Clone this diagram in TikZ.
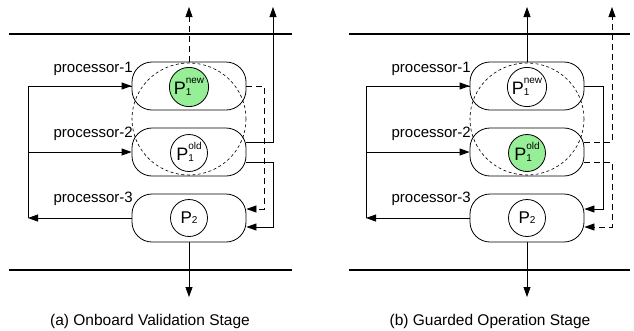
\documentclass[tikz,border=0pt]{standalone}
\usepackage{fontspec}
\setmainfont{Liberation Sans}
\usetikzlibrary{arrows.meta}
\definecolor{pgreen}{RGB}{150,238,150}
\newcommand\Plab[2]{{\fontsize{18}{18}\selectfont P}\raisebox{-1pt}{\fontsize{10}{12.5}\selectfont\begin{tabular}[b]{@{}l@{}}#1\\#2\end{tabular}}}
\newcommand\Ptwo{{\fontsize{17}{17}\selectfont P}{\fontsize{10}{10}\selectfont 2}}
\begin{document}
\begin{tikzpicture}[x=1pt,y=-1pt,
  procbox/.style={draw, rounded corners=20pt, minimum width=114pt, minimum height=48pt, line width=0.8pt},
  pcirc/.style={draw, circle, minimum size=37pt, inner sep=0pt, line width=0.8pt},
  conn/.style={line width=0.8pt},
  dconn/.style={conn, dash pattern=on 6pt off 4pt},
  arr/.style={-{Triangle[length=10pt,width=7pt]}},
  bus/.style={line width=2.4pt},
  plabel/.style={anchor=base east, inner sep=0pt, font=\fontsize{15}{18}\selectfont},
  captionlbl/.style={anchor=base, inner sep=0pt, font=\fontsize{15.5}{18}\selectfont},
  guide/.style={dash pattern=on 3pt off 2.5pt, line width=0.6pt}]
\useasboundingbox (0,0) rectangle (634,330);

% ---------------- panel (a)
\draw[bus] (9,34) -- (292,34);
\draw[bus] (9,270) -- (292,270);
\node[procbox] (a1) at (189,86) {};
\node[procbox] (a2) at (189,152) {};
\node[procbox] (a3) at (189,218) {};
\draw[guide] (189,119) ellipse (57pt and 56pt);
\node[pcirc, fill=pgreen] (a1c) at (189,87) {\Plab{new}{1}};
\node[pcirc] (a2c) at (189,153) {\Plab{old}{1}};
\node[pcirc] (a3c) at (189,218) {\Ptwo};
\node[plabel] (a1l) at (133,72) {processor-1};
\node[plabel] (a2l) at (133,137.5) {processor-2};
\node[plabel] (a3l) at (133,202) {processor-3};
\coordinate (aTopD) at (189,7);
\coordinate (aTopS) at (273,7);
\coordinate (aBot) at (189,297);
\coordinate (aFb) at (28,218);
\draw[dconn,arr] (a1.north) -- (aTopD);
\draw[conn,arr] ([yshift=10pt]a2.east) -| (aTopS);
\draw[dconn,arr] (a1.east) -| (264,209) -- ([yshift=9pt]a3.east);
\draw[conn,arr] ([yshift=-10pt]a2.east) -| (273,227) -- ([yshift=-9pt]a3.east);
\draw[conn,arr] (a3.west) -- (aFb);
\draw[conn] (aFb) |- (a1.west);
\draw[conn,arr] (aFb |- a1.west) -- (a1.west);
\draw[conn,arr] (aFb |- a2.west) -- (a2.west);
\draw[conn,arr] (a3.south) -- (aBot);
\node[captionlbl] (acap) at (150,325) {(a) Onboard Validation Stage};

% ---------------- panel (b)
\draw[bus] (349,34) -- (630,34);
\draw[bus] (349,270) -- (630,270);
\node[procbox] (b1) at (527,86) {};
\node[procbox] (b2) at (527,152) {};
\node[procbox] (b3) at (527,218) {};
\draw[guide] (527,119) ellipse (57pt and 56pt);
\node[pcirc] (b1c) at (527,87) {\Plab{new}{1}};
\node[pcirc, fill=pgreen] (b2c) at (527,153) {\Plab{old}{1}};
\node[pcirc] (b3c) at (527,218) {\Ptwo};
\node[plabel] (b1l) at (471,72) {processor-1};
\node[plabel] (b2l) at (471,137.5) {processor-2};
\node[plabel] (b3l) at (471,202) {processor-3};
\coordinate (bTopS) at (527,7);
\coordinate (bTopD) at (612,7);
\coordinate (bBot) at (527,297);
\coordinate (bFb) at (366,218);
\draw[conn,arr] (b1.north) -- (bTopS);
\draw[dconn,arr] ([yshift=10pt]b2.east) -| (bTopD);
\draw[conn,arr] (b1.east) -| (603,209) -- ([yshift=9pt]b3.east);
\draw[dconn,arr] ([yshift=-10pt]b2.east) -| (612,227) -- ([yshift=-9pt]b3.east);
\draw[conn,arr] (b3.west) -- (bFb);
\draw[conn] (bFb) |- (b1.west);
\draw[conn,arr] (bFb |- b1.west) -- (b1.west);
\draw[conn,arr] (bFb |- b2.west) -- (b2.west);
\draw[conn,arr] (b3.south) -- (bBot);
\node[captionlbl] (bcap) at (490,325) {(b) Guarded Operation Stage};
\end{tikzpicture}
\end{document}
